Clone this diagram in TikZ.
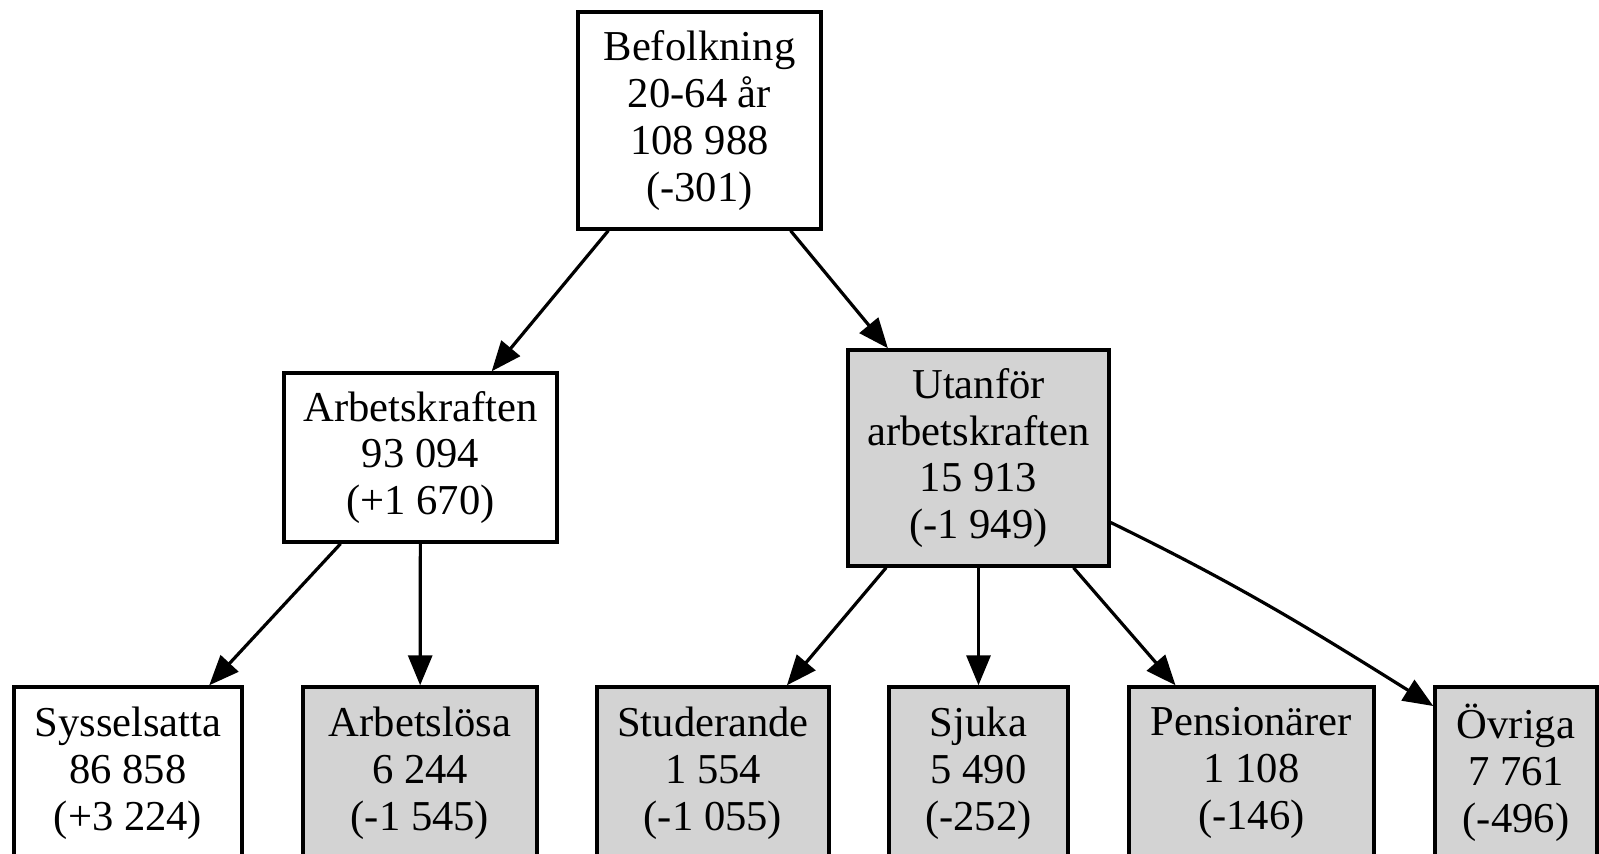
\documentclass[tikz,border=0pt]{standalone}
\usepackage{fontspec}
\setmainfont{Liberation Serif}
\usetikzlibrary{arrows.meta}

\definecolor{boxgray}{HTML}{D3D3D3}

\tikzset{
    box/.style={draw, line width=1.7pt, inner sep=0pt, align=center,
        font=\fontsize{21.3}{23.4}\selectfont},
    greybox/.style={box, fill=boxgray},
    arr/.style={-{Triangle[length=15pt,width=12pt]}, line width=1.6pt},
}

\begin{document}
\begin{tikzpicture}[x=0.5pt, y=-0.5pt]
    % Frame
    \useasboundingbox (0,0) rectangle (1599,854);

    % Top
    \node[box, minimum width=121.5pt, minimum height=108.5pt] (bef) at (699.5,120.5)
        {Befolkning\\20-64 år\\108 988\\(-301)};

    % Middle row
    \node[box, minimum width=136.5pt, minimum height=84.5pt] (ak) at (420.5,457.5)
        {Arbetskraften\\93 094\\(+1 670)};
    \node[greybox, minimum width=130.5pt, minimum height=108pt] (ut) at (978.5,458)
        {Utanför\\arbetskraften\\15 913\\(-1 949)};

    % Bottom row
    \node[box, minimum width=114pt, minimum height=86pt] (syss) at (128,773)
        {Sysselsatta\\86 858\\(+3 224)};
    \node[greybox, minimum width=117pt, minimum height=86pt] (arbl) at (420,773)
        {Arbetslösa\\6 244\\(-1 545)};
    \node[greybox, minimum width=116pt, minimum height=86pt] (stud) at (713,773)
        {Studerande\\1 554\\(-1 055)};
    \node[greybox, minimum width=89.5pt, minimum height=86pt] (sjuka) at (978.5,773)
        {Sjuka\\5 490\\(-252)};
    \node[greybox, minimum width=122.5pt, minimum height=86pt] (pens) at (1251.5,773)
        {Pensionärer\\1 108\\(-146)};
    \node[greybox, minimum width=81pt, minimum height=86pt] (ovr) at (1516,773)
        {Övriga\\7 761\\(-496)};

    % Edges
    \draw[arr] (bef) -- (ak);
    \draw[arr] (bef) -- (ut);
    \draw[arr] (ak) -- (syss);
    \draw[arr] (ak) -- (arbl);
    \foreach \b in {stud,sjuka,pens} {
        \draw[arr] (ut) -- (\b);
    }
    \draw[arr] (ut.-26.5) to[out=-26, in=148] (ovr.141);
\end{tikzpicture}
\end{document}
